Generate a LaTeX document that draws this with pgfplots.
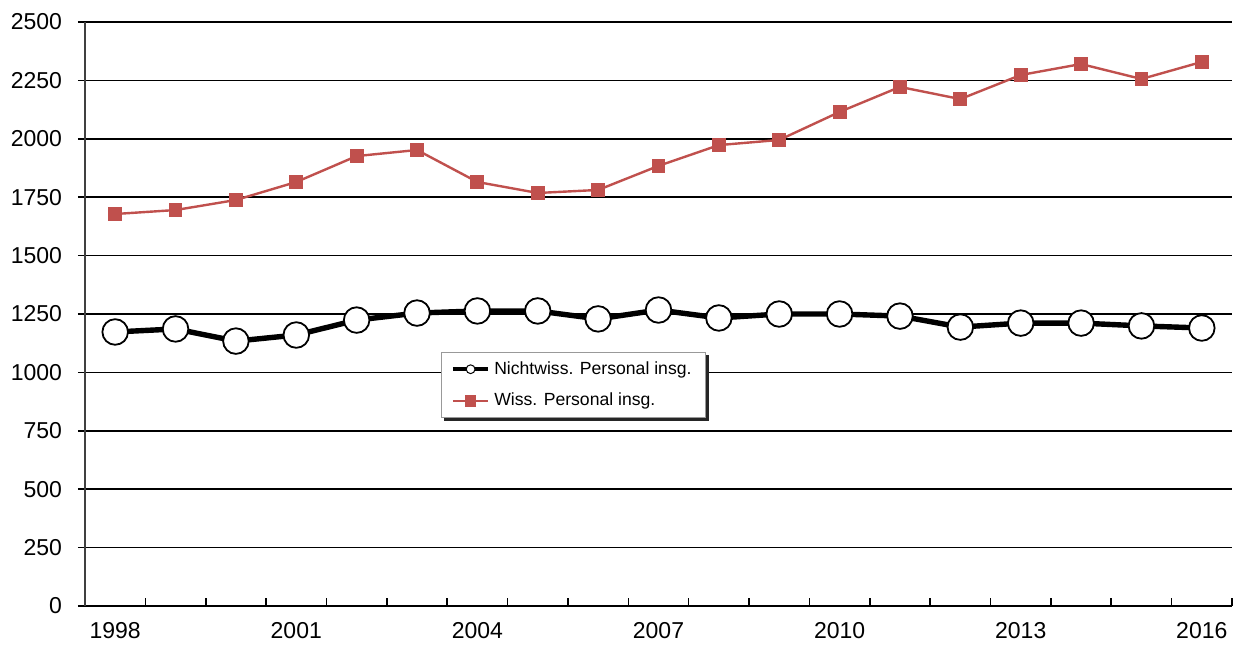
\documentclass[border=0pt]{standalone}
\usepackage{fontspec}
\setmainfont{Liberation Sans}
\usepackage{pgfplots}
\pgfplotsset{compat=1.18}
\definecolor{wissred}{RGB}{192,80,77}
\begin{document}
\begin{tikzpicture}
\begin{axis}[
  scale only axis,
  width=573.5pt, height=292pt,
  xmin=-0.5, xmax=18.5,
  ymin=0, ymax=2500,
  axis x line*=bottom, axis y line*=left,
  axis line style={line width=0.9pt},
  x axis line style={black},
  y axis line style={black!75},
  xtick={0,3,6,9,12,15,18},
  xticklabels={1998,2001,2004,2007,2010,2013,2016},
  minor xtick={-0.5,0.5,...,18.5},
  major x tick style={draw=none},
  minor x tick style={black, line width=0.8pt, yshift=4pt},
  minor tick length=4pt,
  ytick={0,250,...,2500},
  major tick length=3.5pt,
  tick align=outside,
  y tick style={black, line width=0.8pt},
  ymajorgrids,
  major grid style={black, line width=0.8pt},
  /pgf/number format/assume math mode=true,
  /pgf/number format/set thousands separator={},
  ticklabel style={font=\fontsize{11.5}{13}\selectfont},
  yticklabel style={xshift=-4.5pt},
  xticklabel style={yshift=-1pt},
  legend style={at={(0.31,0.435)}, anchor=north west, draw=black!40, fill=white,
    font=\fontsize{8.8}{10}\selectfont, row sep=4pt, inner xsep=5pt, inner ysep=2.5pt,
    name=leg, legend cell align=left},
  clip=false,
]
\addplot[black, line width=2.7pt, mark=*, mark size=6.4pt,
  mark options={fill=white, draw=black, line width=0.9pt},
  legend image code/.code={
    \draw[black, line width=2pt] (0cm,0cm) -- (0.62cm,0cm);
    \draw[black, fill=white, line width=0.5pt] (0.31cm,0cm) circle (2.2pt);}]
coordinates {
(0,1173) (1,1186) (2,1134) (3,1160) (4,1224) (5,1254) (6,1263) (7,1263)
(8,1229) (9,1267) (10,1233) (11,1250) (12,1250) (13,1241) (14,1194)
(15,1211) (16,1211) (17,1199) (18,1190)};
\addlegendentry{Nichtwiss. Personal insg.}
\addplot[wissred, line width=1.2pt, mark=square*, mark size=3.2pt,
  mark options={fill=wissred, draw=wissred, line width=0.5pt},
  legend image code/.code={
    \draw[wissred, line width=1pt] (0cm,0cm) -- (0.62cm,0cm);
    \fill[wissred] (0.31cm,0cm) ++(-2.3pt,-2.3pt) rectangle ++(4.6pt,4.6pt);}]
coordinates {
(0,1678) (1,1695) (2,1738) (3,1815) (4,1926) (5,1952) (6,1815) (7,1768)
(8,1781) (9,1884) (10,1973) (11,1995) (12,2115) (13,2222) (14,2170)
(15,2273) (16,2320) (17,2256) (18,2329)};
\addlegendentry{Wiss. Personal insg.}
\path ([shift={(-42.5pt,-18.5pt)}]rel axis cs:0,0) rectangle ([shift={(1.5pt,11pt)}]rel axis cs:1,1);
\end{axis}
\fill[black!85] ([xshift=1.6pt]leg.south west) rectangle ([xshift=1.6pt,yshift=-1.6pt]leg.south east);
\fill[black!85] ([yshift=-1.6pt]leg.north east) rectangle ([xshift=1.6pt,yshift=-1.6pt]leg.south east);
\end{tikzpicture}
\end{document}
